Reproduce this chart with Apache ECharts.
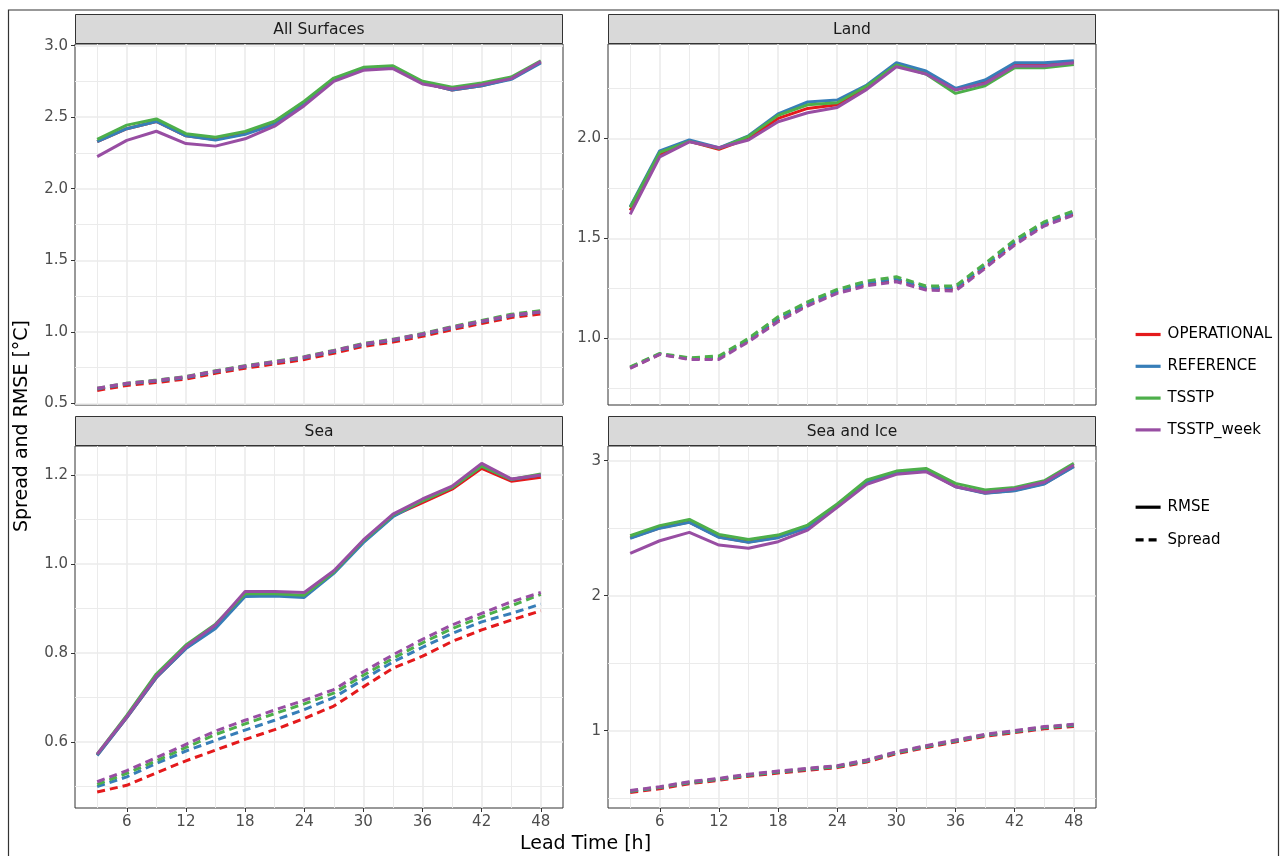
<!DOCTYPE html>
<html>
<head>
<meta charset="utf-8">
<title>Spread and RMSE by lead time</title>
<script src="https://cdn.jsdelivr.net/npm/echarts@6/dist/echarts.min.js"></script>
<style>
  html, body { margin: 0; padding: 0; background: #ffffff; }
  #chart { width: 1284px; height: 856px; }
</style>
</head>
<body>
<div id="chart"></div>
<script>
// Lead times (hours) and x-axis ticks
const leadTimes = [3, 6, 9, 12, 15, 18, 21, 24, 27, 30, 33, 36, 39, 42, 45, 48];
const xTicks = [6, 12, 18, 24, 30, 36, 42, 48];
const xMinorTicks = [3, 9, 15, 21, 27, 33, 39, 45];

// Experiments, in legend order
const models = ['OPERATIONAL', 'REFERENCE', 'TSSTP', 'TSSTP_week'];
const modelColors = ['#E41A1C', '#377EB8', '#4DAF4A', '#984EA3'];
const metrics = ['RMSE', 'Spread'];

const panelNames = ['All Surfaces', 'Land', 'Sea', 'Sea and Ice'];

// Rows follow the order of `models`
const allSurfacesRmse = [
  [2.33, 2.42, 2.47, 2.37, 2.345, 2.385, 2.455, 2.595, 2.76, 2.84, 2.85, 2.74, 2.69, 2.72, 2.77, 2.885],
  [2.33, 2.42, 2.47, 2.37, 2.34, 2.38, 2.45, 2.59, 2.76, 2.84, 2.85, 2.74, 2.69, 2.72, 2.765, 2.88],
  [2.345, 2.445, 2.488, 2.385, 2.36, 2.40, 2.472, 2.612, 2.774, 2.849, 2.86, 2.751, 2.709, 2.74, 2.781, 2.895],
  [2.225, 2.338, 2.402, 2.316, 2.298, 2.349, 2.437, 2.581, 2.751, 2.828, 2.84, 2.733, 2.698, 2.728, 2.77, 2.89]
];
const allSurfacesSpread = [
  [0.59, 0.625, 0.645, 0.67, 0.71, 0.745, 0.775, 0.806, 0.85, 0.898, 0.928, 0.968, 1.015, 1.058, 1.10, 1.125],
  [0.60, 0.635, 0.655, 0.68, 0.72, 0.756, 0.786, 0.818, 0.862, 0.91, 0.94, 0.98, 1.027, 1.07, 1.112, 1.138],
  [0.605, 0.64, 0.662, 0.687, 0.727, 0.763, 0.793, 0.826, 0.87, 0.918, 0.948, 0.988, 1.036, 1.079, 1.122, 1.148],
  [0.605, 0.64, 0.66, 0.685, 0.725, 0.76, 0.79, 0.823, 0.868, 0.915, 0.945, 0.985, 1.032, 1.074, 1.116, 1.14]
];

const landRmse = [
  [1.64, 1.92, 1.985, 1.945, 2.0, 2.10, 2.15, 2.168, 2.255, 2.365, 2.327, 2.245, 2.28, 2.365, 2.368, 2.383],
  [1.658, 1.938, 1.992, 1.953, 2.013, 2.122, 2.182, 2.192, 2.267, 2.378, 2.337, 2.25, 2.292, 2.378, 2.378, 2.388],
  [1.655, 1.93, 1.985, 1.95, 2.01, 2.115, 2.168, 2.178, 2.262, 2.367, 2.322, 2.225, 2.263, 2.353, 2.353, 2.37],
  [1.62, 1.908, 1.983, 1.953, 1.992, 2.083, 2.128, 2.155, 2.245, 2.358, 2.322, 2.242, 2.275, 2.362, 2.362, 2.378]
];
const landSpread = [
  [0.852, 0.92, 0.897, 0.90, 0.987, 1.09, 1.167, 1.23, 1.27, 1.29, 1.247, 1.245, 1.356, 1.473, 1.567, 1.622],
  [0.855, 0.922, 0.90, 0.906, 0.993, 1.10, 1.175, 1.237, 1.278, 1.298, 1.255, 1.253, 1.365, 1.482, 1.575, 1.63],
  [0.858, 0.925, 0.903, 0.912, 1.0, 1.108, 1.183, 1.245, 1.287, 1.308, 1.262, 1.262, 1.375, 1.492, 1.583, 1.638],
  [0.85, 0.92, 0.895, 0.895, 0.983, 1.083, 1.162, 1.225, 1.263, 1.283, 1.242, 1.237, 1.35, 1.467, 1.562, 1.617]
];

const seaRmse = [
  [0.571, 0.655, 0.745, 0.811, 0.858, 0.93, 0.93, 0.928, 0.982, 1.05, 1.108, 1.138, 1.168, 1.215, 1.186, 1.195],
  [0.57, 0.655, 0.745, 0.81, 0.855, 0.927, 0.928, 0.925, 0.979, 1.048, 1.106, 1.142, 1.172, 1.22, 1.19, 1.20],
  [0.573, 0.66, 0.753, 0.818, 0.865, 0.933, 0.933, 0.93, 0.982, 1.052, 1.11, 1.142, 1.172, 1.22, 1.19, 1.202],
  [0.573, 0.657, 0.748, 0.814, 0.863, 0.938, 0.938, 0.936, 0.985, 1.054, 1.112, 1.146, 1.175, 1.226, 1.191, 1.20]
];
const seaSpread = [
  [0.488, 0.503, 0.531, 0.558, 0.582, 0.606, 0.628, 0.653, 0.681, 0.724, 0.766, 0.793, 0.826, 0.852, 0.874, 0.895],
  [0.50, 0.522, 0.552, 0.58, 0.604, 0.627, 0.649, 0.673, 0.70, 0.741, 0.78, 0.813, 0.844, 0.87, 0.889, 0.91],
  [0.505, 0.53, 0.558, 0.588, 0.617, 0.641, 0.664, 0.686, 0.71, 0.75, 0.788, 0.823, 0.855, 0.881, 0.906, 0.932],
  [0.511, 0.536, 0.565, 0.595, 0.625, 0.649, 0.672, 0.694, 0.718, 0.758, 0.796, 0.831, 0.863, 0.889, 0.915, 0.936]
];

const seaIceRmse = [
  [2.428, 2.503, 2.545, 2.435, 2.398, 2.433, 2.507, 2.662, 2.84, 2.909, 2.929, 2.81, 2.76, 2.78, 2.83, 2.96],
  [2.425, 2.50, 2.543, 2.432, 2.395, 2.43, 2.504, 2.659, 2.837, 2.906, 2.926, 2.807, 2.758, 2.778, 2.827, 2.956],
  [2.444, 2.519, 2.565, 2.454, 2.417, 2.449, 2.523, 2.679, 2.857, 2.923, 2.943, 2.832, 2.783, 2.802, 2.852, 2.98],
  [2.314, 2.407, 2.469, 2.375, 2.351, 2.40, 2.486, 2.654, 2.825, 2.899, 2.919, 2.807, 2.765, 2.79, 2.84, 2.968]
];
const seaIceSpread = [
  [0.542, 0.570, 0.607, 0.632, 0.662, 0.686, 0.706, 0.726, 0.768, 0.829, 0.874, 0.916, 0.958, 0.985, 1.014, 1.031],
  [0.55, 0.578, 0.614, 0.639, 0.669, 0.693, 0.713, 0.733, 0.775, 0.836, 0.881, 0.923, 0.965, 0.992, 1.021, 1.038],
  [0.553, 0.581, 0.618, 0.643, 0.673, 0.697, 0.717, 0.737, 0.779, 0.840, 0.885, 0.927, 0.969, 0.996, 1.026, 1.043],
  [0.556, 0.585, 0.622, 0.647, 0.677, 0.701, 0.721, 0.741, 0.783, 0.844, 0.889, 0.931, 0.973, 1.0, 1.03, 1.047]
];

// Y-axis tick labels (major) and minor gridlines per panel
const allSurfacesTicks = [0.5, 1.0, 1.5, 2.0, 2.5, 3.0];
const landTicks = [1.0, 1.5, 2.0];
const seaTicks = [0.6, 0.8, 1.0, 1.2];
const seaIceTicks = [1, 2, 3];
const allSurfacesMinor = [0.75, 1.25, 1.75, 2.25, 2.75];
const landMinor = [0.75, 1.25, 1.75, 2.25];
const seaMinor = [0.5, 0.7, 0.9, 1.1];
const seaIceMinor = [0.5, 1.5, 2.5];

const rmseData = [allSurfacesRmse, landRmse, seaRmse, seaIceRmse];
const spreadData = [allSurfacesSpread, landSpread, seaSpread, seaIceSpread];
const yTicks = [allSurfacesTicks, landTicks, seaTicks, seaIceTicks];
const yMinor = [allSurfacesMinor, landMinor, seaMinor, seaIceMinor];

// Layout (pixels) and free y scales
const FONT = 'DejaVu Sans';
const panelLeft = [75, 608];
const panelTop = [44, 446];
const panelHeight = [361, 362];
const panelWidth = 488;
const stripHeight = 30;
const yRange = [[0.488, 3.012], [0.667, 2.472], [0.452, 1.265], [0.427, 3.109]];
const yDecimals = [1, 1, 1, 0];
const xRange = [0.75, 50.25];

const gridColor = '#EBEBEB';
const frameColor = '#333333';
const lineWidth = 3;
const dashPattern = [8, 5];

const grids = [], xAxes = [], yAxes = [], series = [], graphics = [];

panelNames.forEach((name, i) => {
  const col = i % 2, row = Math.floor(i / 2);
  const left = panelLeft[col], top = panelTop[row], height = panelHeight[row];
  const bottomRow = row === 1;

  grids.push({
    left: left, top: top, width: panelWidth, height: height,
    show: true, backgroundColor: '#ffffff', borderColor: frameColor, borderWidth: 1
  });

  // major x axis: labels, ticks, major gridlines
  xAxes.push({
    type: 'value', gridIndex: i, min: xRange[0], max: xRange[1],
    axisLine: { show: false },
    axisTick: { show: bottomRow, customValues: xTicks, length: 4, lineStyle: { color: frameColor, width: 1 } },
    axisLabel: { show: bottomRow, customValues: xTicks, margin: 7, color: '#4D4D4D', fontFamily: FONT, fontSize: 15 },
    splitLine: { show: true, lineStyle: { color: gridColor, width: 1.6 } }
  });
  // minor x gridlines
  xAxes.push({
    type: 'value', gridIndex: i, min: xRange[0], max: xRange[1],
    axisLine: { show: false },
    axisTick: { show: false, customValues: xMinorTicks },
    axisLabel: { show: false, customValues: xMinorTicks },
    splitLine: { show: true, lineStyle: { color: gridColor, width: 1 } }
  });

  const dec = yDecimals[i];
  yAxes.push({
    type: 'value', gridIndex: i, min: yRange[i][0], max: yRange[i][1], position: 'left',
    axisLine: { show: false },
    axisTick: { show: true, customValues: yTicks[i], length: 4, lineStyle: { color: frameColor, width: 1 } },
    axisLabel: {
      show: true, customValues: yTicks[i], margin: 7, color: '#4D4D4D', fontFamily: FONT, fontSize: 15,
      formatter: v => Number(v).toFixed(dec)
    },
    splitLine: { show: true, lineStyle: { color: gridColor, width: 1.6 } }
  });
  yAxes.push({
    type: 'value', gridIndex: i, min: yRange[i][0], max: yRange[i][1], position: 'left',
    axisLine: { show: false },
    axisTick: { show: false, customValues: yMinor[i] },
    axisLabel: { show: false, customValues: yMinor[i] },
    splitLine: { show: true, lineStyle: { color: gridColor, width: 1 } }
  });

  // one solid line (RMSE) and one dashed line (Spread) per experiment
  [rmseData[i], spreadData[i]].forEach((block, k) => {
    models.forEach((model, m) => {
      series.push({
        type: 'line', name: model,
        xAxisIndex: 2 * i, yAxisIndex: 2 * i,
        data: leadTimes.map((t, j) => [t, block[m][j]]),
        symbol: 'none', showSymbol: false, silent: true,
        lineStyle: { color: modelColors[m], width: lineWidth, type: k === 0 ? 'solid' : dashPattern, cap: 'butt' },
        itemStyle: { color: modelColors[m] },
        emphasis: { disabled: true },
        animation: false
      });
    });
  });

  // facet strip
  graphics.push({
    type: 'rect', silent: true,
    shape: { x: left + 0.5, y: top - stripHeight + 0.5, width: panelWidth - 1, height: stripHeight - 1 },
    style: { fill: '#D9D9D9', stroke: frameColor, lineWidth: 1 }
  });
  graphics.push({
    type: 'text', silent: true,
    x: left + panelWidth / 2, y: top - stripHeight / 2 + 0.5,
    style: {
      text: name, fill: '#1A1A1A', fontFamily: FONT, fontSize: 15.5,
      align: 'center', verticalAlign: 'middle', textAlign: 'center', textVerticalAlign: 'middle'
    }
  });
});

// line-type keys for the second legend
metrics.forEach((metric, k) => {
  series.push({
    type: 'line', name: metric, xAxisIndex: 0, yAxisIndex: 0, data: [],
    symbol: 'none', showSymbol: false, silent: true,
    lineStyle: { color: '#000000', width: lineWidth, type: k === 0 ? 'solid' : dashPattern },
    itemStyle: { color: '#000000' },
    animation: false
  });
});

// axis titles and outer frame
graphics.push({
  type: 'text', silent: true, x: 585.5, y: 844,
  style: {
    text: 'Lead Time [h]', fill: '#000000', fontFamily: FONT, fontSize: 19,
    align: 'center', verticalAlign: 'middle', textAlign: 'center', textVerticalAlign: 'middle'
  }
});
graphics.push({
  type: 'text', silent: true, x: 22, y: 426, rotation: Math.PI / 2,
  style: {
    text: 'Spread and RMSE [°C]', fill: '#000000', fontFamily: FONT, fontSize: 19,
    align: 'center', verticalAlign: 'middle', textAlign: 'center', textVerticalAlign: 'middle'
  }
});
graphics.push({
  type: 'rect', silent: true, z: 100,
  shape: { x: 8.5, y: 10, width: 1270, height: 900 },
  style: { fill: 'none', stroke: frameColor, lineWidth: 1.2 }
});

const legendText = { fontFamily: FONT, fontSize: 15, color: '#000000', padding: [0, 0, 0, 2] };
// keys show the line only, without a point marker
const legendItem = { opacity: 0, borderWidth: 0 };
const legendLine = { width: 3.2 };

const chart = echarts.init(document.getElementById('chart'), null, { renderer: 'canvas', width: 1284, height: 856 });
chart.setOption({
  backgroundColor: '#ffffff',
  animation: false,
  grid: grids,
  xAxis: xAxes,
  yAxis: yAxes,
  legend: [
    {
      data: models, orient: 'vertical', left: 1129, top: 322,
      itemWidth: 25, itemHeight: 14, itemGap: 16.8, selectedMode: false,
      itemStyle: legendItem, lineStyle: legendLine, textStyle: legendText
    },
    {
      data: metrics, orient: 'vertical', left: 1129, top: 494.7,
      itemWidth: 25, itemHeight: 14, itemGap: 17.6, selectedMode: false,
      itemStyle: legendItem, lineStyle: legendLine, textStyle: legendText
    }
  ],
  graphic: { elements: graphics },
  series: series
});
</script>
</body>
</html>
